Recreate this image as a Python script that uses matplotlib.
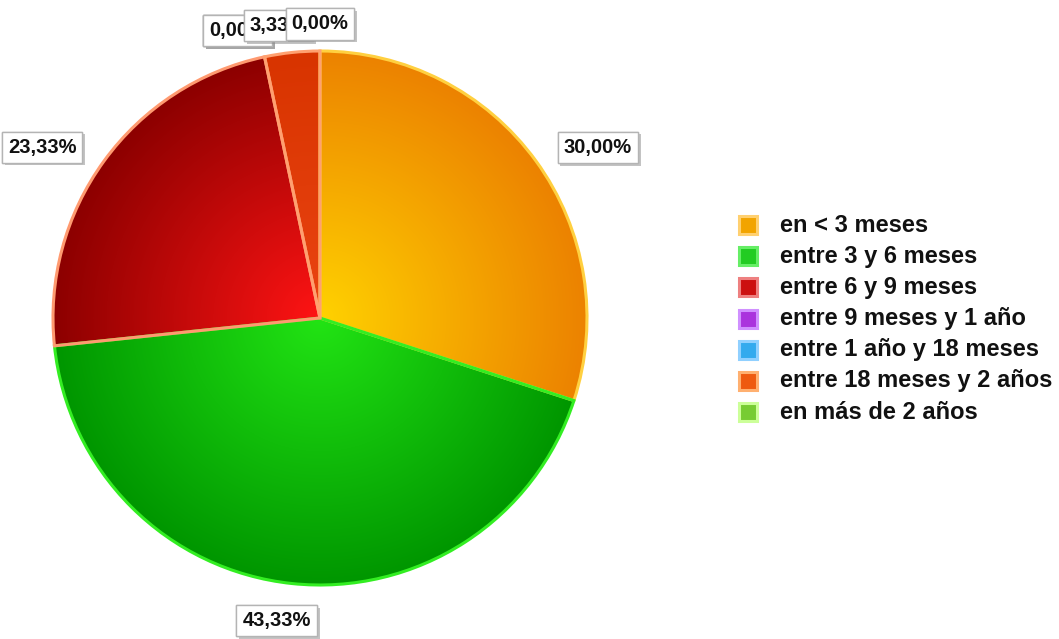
import numpy as np
import matplotlib.pyplot as plt
import matplotlib.patheffects as pe
from matplotlib.patches import Rectangle
from matplotlib.colors import to_rgb

categorias = ["en < 3 meses", "entre 3 y 6 meses", "entre 6 y 9 meses",
              "entre 9 meses y 1 año", "entre 1 año y 18 meses",
              "entre 18 meses y 2 años", "en más de 2 años"]
porcentajes = [30.00, 43.33, 23.33, 0.00, 0.00, 3.33, 0.00]

# degradado radial de cada porción: centro -> borde, y color del contorno
color_centro = ["#ffd200", "#22e414", "#ff1414", "#b040e0", "#30a0f0", "#ea4412", "#77cc33"]
color_borde = ["#ec8200", "#009600", "#8c0000", "#8020b0", "#1070c0", "#d83400", "#55aa22"]
color_linea = ["#ffd040", "#33ee22", "#ff9a70", "#d080ff", "#80c8ff", "#ffa070", "#aaee66"]
color_leyenda = ["#f2a400", "#22cc22", "#cc1010", "#aa33dd", "#33aaee", "#ee5a10", "#77cc33"]
borde_leyenda = ["#ffd070", "#66ee66", "#ee8080", "#d090ff", "#90d0ff", "#ffb070", "#ccff99"]

plt.rcParams['font.family'] = ['Liberation Sans', 'DejaVu Sans']

fig = plt.figure(figsize=(10.59, 6.39), dpi=100)
ax = fig.add_axes([0, 0, 1, 1])
cx, cy, R = 320, 321, 267

wedges, _ = ax.pie(porcentajes, startangle=90, counterclock=False,
                   center=(cx, cy), radius=R, colors=color_leyenda,
                   wedgeprops=dict(linewidth=0))

n = 500
xs = np.linspace(cx - R, cx + R, n)
ys = np.linspace(cy - R, cy + R, n)
X, Y = np.meshgrid(xs, ys)
t = np.clip(np.hypot(X - cx, Y - cy) / R, 0, 1)[..., None]

for w, c0, c1, lc in zip(wedges, color_centro, color_borde, color_linea):
    if w.theta2 - w.theta1 <= 0:
        w.set_visible(False)
        continue
    img = np.array(to_rgb(c0)) * (1 - t) + np.array(to_rgb(c1)) * t
    im = ax.imshow(img, extent=(cx - R, cx + R, cy - R, cy + R),
                   origin='lower', zorder=2, interpolation='bilinear')
    im.set_clip_path(w)
    w.set_facecolor('none')
    w.set_edgecolor(lc)
    w.set_linewidth(2.2)
    w.set_zorder(3)

ax.set_xlim(0, 1059)
ax.set_ylim(0, 639)
ax.set_aspect('equal')
ax.axis('off')

# etiquetas con el porcentaje fuera del círculo
etiquetas = []
for i, (w, p) in enumerate(zip(wedges, porcentajes)):
    ang = np.deg2rad((w.theta1 + w.theta2) / 2)
    x = cx + 1.10 * R * np.cos(ang)
    y = cy + 1.12 * R * np.sin(ang) - 5
    txt = ax.text(x, y, f"{p:.2f}%".replace('.', ','), ha='center', va='center',
                  fontsize=14.5, fontweight='bold', color='#111111', zorder=10 + i,
                  bbox=dict(boxstyle='square,pad=0.3', fc='white', ec='#b4b4b4', lw=1))
    txt.get_bbox_patch().set_path_effects([
        pe.withSimplePatchShadow(offset=(2, -2), shadow_rgbFace='#888888', alpha=0.5),
        pe.Normal()])
    etiquetas.append((txt, x, y, np.cos(ang)))

# la caja se desplaza hacia fuera según el lado del círculo
fig.canvas.draw()
renderer = fig.canvas.get_renderer()
for txt, x, y, c in etiquetas:
    ancho = txt.get_bbox_patch().get_window_extent(renderer).width
    txt.set_position((x + ancho / 2 * np.clip(3 * c, -1, 1), y))

# leyenda
for i, (nombre, f, e) in enumerate(zip(categorias, color_leyenda, borde_leyenda)):
    yl = 639 - (225 + 31.2 * i)
    ax.add_patch(Rectangle((739, yl - 9), 18, 18, facecolor=f, edgecolor=e,
                           linewidth=2.2, zorder=5))
    ax.text(780, yl, nombre, ha='left', va='center', fontsize=17,
            fontweight='bold', color='#111111')

fig.savefig('out.png', dpi=100, facecolor='white')
